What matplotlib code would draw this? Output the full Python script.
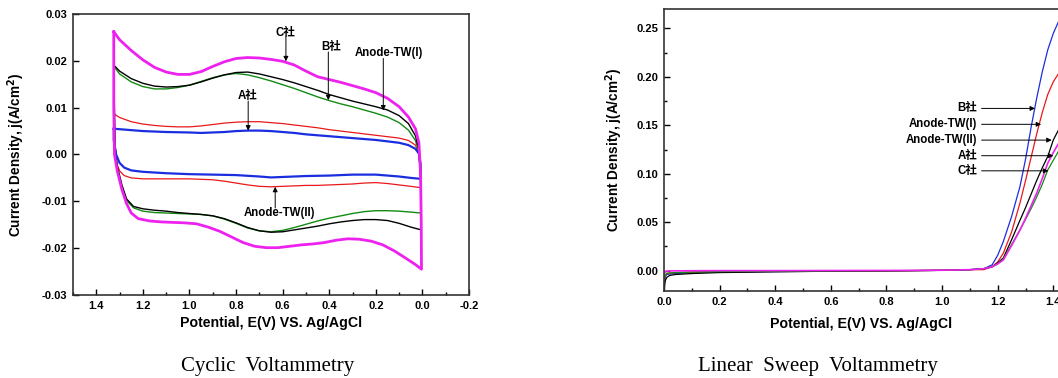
import numpy as np
import matplotlib.pyplot as plt
from matplotlib.ticker import MultipleLocator

plt.rcParams['font.family'] = ['Liberation Sans', 'Noto Sans CJK SC']
plt.rcParams['font.weight'] = 'bold'
plt.rcParams['mathtext.default'] = 'bf'

# ---- Cyclic voltammetry loops (x = potential V, y = current density A/cm2)
cv_c_x = [1.325, 1.30, 1.25, 1.20, 1.15, 1.10, 1.05, 1.00, 0.95, 0.90, 0.85, 0.80, 0.75, 0.70, 0.65, 0.60,
          0.55, 0.50, 0.45, 0.40, 0.35, 0.30, 0.25, 0.20, 0.15, 0.10, 0.06, 0.03, 0.015, 0.008, 0.005, 0.004,
          0.03, 0.07, 0.12, 0.17, 0.22, 0.27, 0.32, 0.37, 0.42, 0.47, 0.52, 0.57, 0.62, 0.67, 0.72, 0.77,
          0.82, 0.87, 0.92, 0.97, 1.02, 1.07, 1.12, 1.17, 1.22, 1.25, 1.27, 1.29, 1.31, 1.322, 1.325, 1.325]
cv_c_y = [0.0262, 0.0245, 0.0222, 0.0202, 0.0186, 0.0176, 0.0171, 0.0171, 0.0177, 0.0188, 0.0198, 0.0205,
          0.0207, 0.0206, 0.0203, 0.0199, 0.0191, 0.0178, 0.0166, 0.0160, 0.0154, 0.0147, 0.0140, 0.0132,
          0.0120, 0.0102, 0.0080, 0.0055, 0.0025, -0.004, -0.015, -0.0245,
          -0.0235, -0.0222, -0.0206, -0.0193, -0.0185, -0.0181, -0.0180, -0.0183, -0.0188, -0.0191, -0.0193,
          -0.0196, -0.0199, -0.0199, -0.0196, -0.0188, -0.0176, -0.0164, -0.0155, -0.0148, -0.0146, -0.0145,
          -0.0144, -0.0142, -0.0137, -0.0125, -0.0105, -0.0075, -0.0035, 0.0, 0.010, 0.0262]

cv_tw1_x = [1.325, 1.30, 1.25, 1.20, 1.15, 1.10, 1.05, 1.00, 0.95, 0.90, 0.85, 0.80, 0.75, 0.70, 0.65, 0.60,
            0.55, 0.50, 0.45, 0.40, 0.35, 0.30, 0.25, 0.20, 0.15, 0.10, 0.06, 0.03, 0.015, 0.008, 0.005,
            0.05, 0.10, 0.15, 0.20, 0.25, 0.30, 0.35, 0.40, 0.45, 0.50, 0.55, 0.60, 0.65, 0.70, 0.75, 0.80,
            0.85, 0.90, 0.95, 1.00, 1.05, 1.10, 1.15, 1.20, 1.24, 1.27, 1.29, 1.31, 1.32, 1.325]
cv_tw1_y = [0.0191, 0.0178, 0.0162, 0.0152, 0.0146, 0.0144, 0.0145, 0.0148, 0.0155, 0.0163, 0.0170, 0.0175,
            0.0176, 0.0172, 0.0166, 0.0160, 0.0153, 0.0145, 0.0137, 0.0128, 0.0121, 0.0114, 0.0108, 0.0102,
            0.0095, 0.0083, 0.0066, 0.0040, 0.0010, -0.005, -0.0161,
            -0.0155, -0.0147, -0.0141, -0.0139, -0.0139, -0.0141, -0.0144, -0.0148, -0.0153, -0.0157, -0.0161,
            -0.0165, -0.0166, -0.0163, -0.0156, -0.0146, -0.0137, -0.0131, -0.0128, -0.0126, -0.0124, -0.0121,
            -0.0119, -0.0116, -0.0111, -0.0095, -0.0065, -0.0025, 0.002, 0.0191]

cv_b_x = [1.325, 1.30, 1.25, 1.20, 1.15, 1.10, 1.05, 1.00, 0.95, 0.90, 0.85, 0.80, 0.75, 0.70, 0.65, 0.60,
          0.55, 0.50, 0.45, 0.40, 0.35, 0.30, 0.25, 0.20, 0.15, 0.10, 0.06, 0.03, 0.015, 0.008, 0.006,
          0.05, 0.10, 0.15, 0.20, 0.25, 0.30, 0.35, 0.40, 0.45, 0.50, 0.55, 0.60, 0.65, 0.70, 0.75, 0.80,
          0.85, 0.90, 0.95, 1.00, 1.05, 1.10, 1.15, 1.20, 1.24, 1.27, 1.29, 1.31, 1.32, 1.325]
cv_b_y = [0.0188, 0.0172, 0.0155, 0.0145, 0.0140, 0.0140, 0.0143, 0.0148, 0.0156, 0.0164, 0.0170, 0.0173,
          0.0170, 0.0164, 0.0157, 0.0149, 0.0141, 0.0132, 0.0123, 0.0115, 0.0108, 0.0102, 0.0095, 0.0088,
          0.0080, 0.0068, 0.0052, 0.0030, 0.0005, -0.005, -0.0125,
          -0.0123, -0.0121, -0.0120, -0.0120, -0.0122, -0.0126, -0.0131, -0.0136, -0.0142, -0.0149, -0.0156,
          -0.0162, -0.0165, -0.0163, -0.0157, -0.0147, -0.0138, -0.0131, -0.0128, -0.0127, -0.0126, -0.0125,
          -0.0124, -0.0121, -0.0114, -0.0098, -0.0070, -0.0030, 0.002, 0.0188]

cv_tw2_x = [1.325, 1.30, 1.25, 1.20, 1.15, 1.10, 1.05, 1.00, 0.95, 0.90, 0.85, 0.80, 0.75, 0.70, 0.65, 0.60,
            0.55, 0.50, 0.45, 0.40, 0.35, 0.30, 0.25, 0.20, 0.15, 0.10, 0.06, 0.03, 0.015, 0.008, 0.006,
            0.05, 0.10, 0.15, 0.20, 0.25, 0.30, 0.35, 0.40, 0.45, 0.50, 0.55, 0.60, 0.65, 0.70, 0.75, 0.80,
            0.85, 0.90, 0.95, 1.00, 1.05, 1.10, 1.15, 1.20, 1.25, 1.28, 1.30, 1.315, 1.325]
cv_tw2_y = [0.0087, 0.0079, 0.0070, 0.0065, 0.0062, 0.0060, 0.0059, 0.0059, 0.0061, 0.0064, 0.0067, 0.0069,
            0.0070, 0.0070, 0.0068, 0.0066, 0.0063, 0.0060, 0.0057, 0.0053, 0.0050, 0.0047, 0.0044, 0.0041,
            0.0038, 0.0035, 0.0030, 0.0020, 0.0000, -0.004, -0.0071,
            -0.0068, -0.0065, -0.0062, -0.0060, -0.0061, -0.0063, -0.0064, -0.0065, -0.0066, -0.0066, -0.0067,
            -0.0068, -0.0069, -0.0068, -0.0065, -0.0061, -0.0057, -0.0054, -0.0053, -0.0052, -0.0052, -0.0052,
            -0.0052, -0.0052, -0.0050, -0.0045, -0.0035, -0.0015, 0.0087]

cv_a_x = [1.325, 1.30, 1.25, 1.20, 1.10, 1.00, 0.95, 0.90, 0.85, 0.80, 0.75, 0.70, 0.65, 0.60, 0.55, 0.50,
          0.45, 0.40, 0.35, 0.30, 0.25, 0.20, 0.15, 0.10, 0.06, 0.03, 0.015, 0.008, 0.006,
          0.05, 0.10, 0.15, 0.20, 0.30, 0.40, 0.50, 0.60, 0.65, 0.70, 0.80, 0.90, 1.00, 1.10, 1.20, 1.25,
          1.28, 1.30, 1.315, 1.325, 1.325]
cv_a_y = [0.0055, 0.0054, 0.0052, 0.0050, 0.0048, 0.0047, 0.0046, 0.0047, 0.0048, 0.0050, 0.0051, 0.0051,
          0.0050, 0.0048, 0.0046, 0.0043, 0.0041, 0.0039, 0.0037, 0.0035, 0.0033, 0.0031, 0.0028, 0.0025,
          0.0020, 0.0012, 0.0002, -0.002, -0.0052,
          -0.0050, -0.0047, -0.0045, -0.0043, -0.0043, -0.0045, -0.0046, -0.0048, -0.0049, -0.0047, -0.0044,
          -0.0043, -0.0042, -0.0040, -0.0037, -0.0034, -0.0028, -0.0018, 0.0000, 0.0030, 0.0055]

# ---- Linear sweep voltammetry
lsv_x = [0.0, 0.005, 0.01, 0.02, 0.04, 0.07, 0.10, 0.20, 0.40, 0.60, 0.80, 1.00, 1.10, 1.15, 1.18, 1.20,
         1.22, 1.25, 1.28, 1.30, 1.32, 1.34, 1.36, 1.38, 1.40, 1.42, 1.44]
lsv_b = [-0.014, -0.006, -0.004, -0.0035, -0.003, -0.0025, -0.002, -0.0015, -0.001, -0.0006, -0.0003, 0.0003,
         0.001, 0.002, 0.006, 0.016, 0.030, 0.056, 0.087, 0.115, 0.148, 0.178, 0.205, 0.228, 0.245, 0.258, 0.268]
lsv_tw1 = [-0.012, -0.005, -0.003, -0.0025, -0.002, -0.0018, -0.0015, -0.001, -0.0007, -0.0004, -0.0002, 0.0003,
           0.001, 0.001, 0.004, 0.009, 0.018, 0.040, 0.070, 0.093, 0.117, 0.141, 0.163, 0.182, 0.195, 0.204, 0.210]
lsv_tw2 = [-0.020, -0.010, -0.007, -0.005, -0.004, -0.0035, -0.003, -0.002, -0.0012, -0.0006, -0.0002, 0.0003,
           0.001, 0.002, 0.004, 0.008, 0.013, 0.032, 0.052, 0.065, 0.079, 0.093, 0.106, 0.118, 0.135, 0.146, 0.152]
lsv_a = [-0.003, -0.001, -0.0005, -0.0003, -0.0002, -0.0002, -0.0001, 0.0, 0.0, 0.0001, 0.0002, 0.0004,
         0.001, 0.002, 0.004, 0.007, 0.011, 0.026, 0.042, 0.054, 0.067, 0.080, 0.095, 0.111, 0.122, 0.132, 0.140]
lsv_c = [-0.010, -0.004, -0.003, -0.0025, -0.002, -0.0018, -0.0015, -0.001, -0.0006, -0.0003, -0.0001, 0.0003,
         0.001, 0.002, 0.004, 0.007, 0.012, 0.027, 0.042, 0.053, 0.064, 0.076, 0.089, 0.104, 0.114, 0.124, 0.132]

fig = plt.figure(figsize=(10.58, 3.78), dpi=100)
ax1 = fig.add_axes([0.069, 0.2196, 0.3743, 0.7434])
ax2 = fig.add_axes([0.6276, 0.2302, 0.4206, 0.746])

ax1.plot(cv_tw2_x, cv_tw2_y, color='#e8181b', lw=0.9)
ax1.plot(cv_b_x, cv_b_y, color='#138a13', lw=1.0)
ax1.plot(cv_tw1_x, cv_tw1_y, color='black', lw=1.0)
ax1.plot(cv_a_x, cv_a_y, color='#1a2ee0', lw=1.6)
ax1.plot(cv_c_x, cv_c_y, color='#ee22ee', lw=2.0)

ax2.plot(lsv_x, lsv_b, color='#1a2ee0', lw=0.9)
ax2.plot(lsv_x, lsv_tw1, color='#e8181b', lw=0.9)
ax2.plot(lsv_x, lsv_tw2, color='black', lw=0.9)
ax2.plot(lsv_x, lsv_c, color='#138a13', lw=0.9)
ax2.plot(lsv_x, lsv_a, color='#ee22ee', lw=1.2)

arr = dict(arrowstyle='-|>', color='black', lw=0.7, mutation_scale=7, shrinkA=0, shrinkB=0)
fs = 8.3

# CV labels
ax1.text(0.586, 0.0260, 'C社', ha='center', va='center', fontsize=fs)
ax1.annotate('', xy=(0.586, 0.0199), xytext=(0.586, 0.0251), arrowprops=arr)
ax1.text(0.39, 0.0230, 'B社', ha='center', va='center', fontsize=fs)
ax1.annotate('', xy=(0.404, 0.0116), xytext=(0.404, 0.0219), arrowprops=arr)
ax1.text(0.142, 0.0217, 'Anode-TW(I)', ha='center', va='center', fontsize=fs)
ax1.annotate('', xy=(0.168, 0.0094), xytext=(0.168, 0.0205), arrowprops=arr)
ax1.text(0.752, 0.0124, 'A社', ha='center', va='center', fontsize=fs)
ax1.annotate('', xy=(0.748, 0.0051), xytext=(0.748, 0.0114), arrowprops=arr)
ax1.text(0.612, -0.0126, 'Anode-TW(II)', ha='center', va='center', fontsize=fs)
ax1.annotate('', xy=(0.632, -0.0069), xytext=(0.632, -0.0114), arrowprops=arr)

# LSV labels
lsv_labels = ['B社', 'Anode-TW(I)', 'Anode-TW(II)', 'A社', 'C社']
lsv_label_y = [0.1674, 0.151, 0.1347, 0.1186, 0.103]
lsv_tip_x = [1.334, 1.356, 1.394, 1.400, 1.382]
for lab, ly, tx in zip(lsv_labels, lsv_label_y, lsv_tip_x):
    ax2.text(1.126, ly, lab, ha='right', va='center', fontsize=fs)
    ax2.annotate('', xy=(tx, ly), xytext=(1.142, ly), arrowprops=arr)

ax1.set_xlim(1.5, -0.2)
ax1.set_ylim(-0.03, 0.03)
ax1.set_xticks(np.arange(-0.2, 1.41, 0.2))
ax1.set_xticklabels(['-0.2', '0.0', '0.2', '0.4', '0.6', '0.8', '1.0', '1.2', '1.4'])
ax1.xaxis.set_minor_locator(MultipleLocator(0.1))
ax1.set_yticks(np.arange(-0.03, 0.031, 0.01))
ax1.set_yticklabels(['-0.03', '-0.02', '-0.01', '0.00', '0.01', '0.02', '0.03'])

ax2.set_xlim(0, 1.6)
ax2.set_ylim(-0.021, 0.27)
ax2.set_xticks(np.arange(0, 1.61, 0.2))
ax2.set_xticklabels(['0.0', '0.2', '0.4', '0.6', '0.8', '1.0', '1.2', '1.4', '1.6'])
ax2.xaxis.set_minor_locator(MultipleLocator(0.1))
ax2.set_yticks(np.arange(0, 0.251, 0.05))
ax2.set_yticklabels(['0.00', '0.05', '0.10', '0.15', '0.20', '0.25'])
ax2.yaxis.set_minor_locator(MultipleLocator(0.025))

for ax in (ax1, ax2):
    ax.tick_params(which='both', direction='in', labelsize=8, pad=4, width=1)
    ax.tick_params(which='major', length=4)
    ax.tick_params(which='minor', length=2.5)
    for s in ax.spines.values():
        s.set_linewidth(1.2)
        s.set_color('#333333')
    ax.set_xlabel('Potential, E(V) VS. Ag/AgCl', fontsize=10.2, fontweight='bold')
    ax.set_ylabel(r'Current Density, j(A/cm$^{2}$)', fontsize=9.8, fontweight='bold')

ax1.xaxis.set_label_coords(0.5, -0.075)
ax1.yaxis.set_label_coords(-0.116, 0.5)
ax2.xaxis.set_label_coords(0.443, -0.092)
ax2.yaxis.set_label_coords(-0.088, 0.5)

fig.text(268 / 1058, 1 - 366 / 378, 'Cyclic  Voltammetry', ha='center', va='center',
         fontsize=15, family='Liberation Serif', fontweight='normal')
fig.text(818 / 1058, 1 - 366 / 378, 'Linear  Sweep  Voltammetry', ha='center', va='center',
         fontsize=15, family='Liberation Serif', fontweight='normal')

fig.savefig('out.png', dpi=100)
